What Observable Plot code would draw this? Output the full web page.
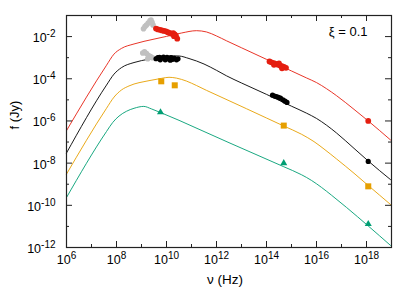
<!DOCTYPE html>
<html><head><meta charset="utf-8">
<script src="https://cdn.jsdelivr.net/npm/d3@7"></script>
<script src="https://cdn.jsdelivr.net/npm/@observablehq/plot@0.6"></script>
<style>
html,body{margin:0;padding:0;background:#fff;}
#chart svg{display:block;}
</style></head><body><div id="chart"></div>
<script>
// ---- tick exponents ----
const xMajorExp = [6, 8, 10, 12, 14, 16, 18];
const xMinorExp = [7, 9, 11, 13, 15, 17];
const yMajorExp = [-12, -10, -8, -6, -4, -2];
const yMinorExp = [-11, -9, -7, -5, -3];

// ---- model curves (log10 nu, log10 f) ----
const redLogNu = [6.0, 7.6, 7.9, 8.2, 8.7, 9.5, 10.0, 10.6, 11.2, 11.6, 12.0, 12.4, 13.0, 14.0, 15.0, 15.6, 16.0, 16.4, 16.8, 17.5, 18.07, 18.96];
const redLogF  = [-6.46, -3.36, -2.83, -2.56, -2.35, -2.12, -1.99, -1.83, -1.72, -1.78, -1.97, -2.2, -2.53, -3.08, -3.63, -3.96, -4.18, -4.47, -4.8, -5.45, -6.0, -6.9];

const blackLogNu = [6.0, 7.6, 7.9, 8.2, 8.7, 9.3, 9.8, 10.2, 10.5, 10.9, 11.5, 12.0, 12.4, 13.0, 14.0, 15.0, 15.6, 16.0, 16.4, 16.8, 17.5, 18.07, 18.96];
const blackLogF  = [-7.52, -4.3, -3.78, -3.47, -3.23, -3.07, -2.97, -2.91, -2.92, -3.04, -3.3, -3.6, -3.86, -4.2, -4.74, -5.3, -5.63, -5.88, -6.2, -6.57, -7.3, -7.9, -8.78];

const orangeLogNu = [6.0, 7.6, 7.9, 8.2, 8.5, 9.3, 9.8, 10.1, 10.4, 10.8, 11.2, 11.6, 12.3, 13.2, 14.0, 14.69, 15.4, 15.9, 16.3, 16.8, 17.5, 18.07, 18.96];
const orangeLogF  = [-8.52, -5.4, -4.87, -4.53, -4.34, -4.09, -3.98, -3.93, -3.97, -4.11, -4.32, -4.55, -4.93, -5.42, -5.86, -6.24, -6.63, -6.98, -7.33, -7.8, -8.48, -9.06, -9.96];

const greenLogNu = [6.0, 7.6, 7.85, 8.1, 8.4, 8.7, 9.09, 9.4, 9.76, 10.5, 11.5, 12.5, 13.5, 14.69, 15.4, 15.8, 16.2, 16.6, 17.2, 18.07, 18.96];
const greenLogF  = [-9.63, -6.5, -6.07, -5.77, -5.54, -5.4, -5.31, -5.43, -5.6, -5.97, -6.5, -7.03, -7.55, -8.17, -8.55, -8.82, -9.15, -9.52, -10.1, -10.98, -11.9];

// ---- observed points (log10 nu, log10 f) ----
const grayTopLogNu = [9.08, 9.14, 9.2, 9.27, 9.34, 9.38, 9.42, 9.46];
const grayTopLogF  = [-1.63, -1.52, -1.45, -1.36, -1.25, -1.22, -1.32, -1.45];
const redPtLogNu = [9.58, 9.66, 9.74, 9.82, 9.9, 9.98, 10.05, 10.12, 10.2, 10.27, 10.33, 10.38, 10.43, 10.3, 14.12, 14.2, 14.3, 14.38, 14.46, 14.54, 14.62, 14.7, 14.78, 14.3, 14.5, 14.62, 18.07];
const redPtLogF  = [-1.62, -1.66, -1.68, -1.71, -1.73, -1.75, -1.79, -1.83, -1.86, -1.84, -1.9, -1.97, -2.1, -1.98, -3.18, -3.22, -3.26, -3.3, -3.33, -3.37, -3.4, -3.44, -3.48, -3.34, -3.27, -3.5, -6.0];

const grayLowLogNu = [9.05, 9.12, 9.2, 9.28, 9.36, 9.44, 9.25];
const grayLowLogF  = [-2.78, -2.72, -2.8, -2.9, -2.95, -3.0, -3.05];
const blackPtLogNu = [9.58, 9.65, 9.72, 9.8, 9.88, 9.95, 10.02, 10.1, 10.18, 10.25, 10.32, 10.4, 10.46, 9.75, 9.95, 10.15, 14.24, 14.32, 14.4, 14.48, 14.56, 14.66, 14.74, 14.82, 18.07];
const blackPtLogF  = [-3.05, -3.0, -2.98, -3.02, -2.97, -3.04, -2.99, -3.06, -3.0, -3.08, -3.03, -3.1, -3.05, -3.1, -3.1, -3.12, -4.78, -4.82, -4.84, -4.88, -4.92, -5.0, -5.06, -5.12, -7.92];

const orangePtLogNu = [9.79, 10.33, 14.69, 18.07];
const orangePtLogF  = [-4.12, -4.31, -6.22, -9.1];

const greenPtLogNu = [9.76, 14.69, 18.07];
const greenPtLogF  = [-5.59, -8.0, -10.89];

// ---- colours ----
const cRed = "#e51e10", cBlack = "#000000", cOrange = "#e69f00", cGreen = "#009e73", cGray = "#c0c0c0";

const toPts = (lx, ly) => lx.map((v, i) => ({nu: 10 ** v, f: 10 ** ly[i]}));
const W = 415, H = 290, mL = 66, mR = 24, mT = 15, mB = 43;
const pw = W - mL - mR, ph = H - mT - mB;
const pow = e => 10 ** e;
const fmt = d => "10^" + String(Math.round(Math.log10(d))).replace("−", "-");
const axisColor = "#222";

const lineOpts = (c) => ({x: "nu", y: "f", stroke: c, strokeWidth: 0.9, curve: "monotone-x"});

const chart = Plot.plot({
  width: W, height: H,
  marginLeft: mL, marginRight: mR, marginTop: mT, marginBottom: mB,
  style: {fontFamily: "'Liberation Sans', Arial, sans-serif", fontSize: "12px", color: "#000", background: "#fff"},
  x: {type: "log", domain: [1e6, 1e19]},
  y: {type: "log", domain: [1e-12, 1e-1]},
  marks: [
    Plot.line(toPts(redLogNu, redLogF), lineOpts(cRed)),
    Plot.line(toPts(blackLogNu, blackLogF), lineOpts(cBlack)),
    Plot.line(toPts(orangeLogNu, orangeLogF), lineOpts(cOrange)),
    Plot.line(toPts(greenLogNu, greenLogF), lineOpts(cGreen)),
    Plot.dot(toPts(grayTopLogNu, grayTopLogF), {x: "nu", y: "f", r: 2.8, fill: cGray, symbol: "circle"}),
    Plot.dot(toPts(grayLowLogNu, grayLowLogF), {x: "nu", y: "f", r: 2.8, fill: cGray, symbol: "circle"}),
    Plot.dot(toPts(redPtLogNu, redPtLogF), {x: "nu", y: "f", r: 2.9, fill: cRed, symbol: "circle"}),
    Plot.dot(toPts(blackPtLogNu, blackPtLogF), {x: "nu", y: "f", r: 2.6, fill: cBlack, symbol: "circle"}),
    Plot.dot(toPts(orangePtLogNu, orangePtLogF), {x: "nu", y: "f", r: 3.4, fill: cOrange, symbol: "square"}),
    Plot.dot(toPts(greenPtLogNu, greenPtLogF), {x: "nu", y: "f", r: 2.6, fill: cGreen, symbol: "triangle"}),
    // inward ticks on all four sides
    Plot.tickX(xMajorExp.map(pow), {x: d => d, insetTop: ph - 6, stroke: axisColor}),
    Plot.tickX(xMinorExp.map(pow), {x: d => d, insetTop: ph - 3, stroke: axisColor}),
    Plot.tickX(xMajorExp.map(pow), {x: d => d, insetBottom: ph - 6, stroke: axisColor}),
    Plot.tickX(xMinorExp.map(pow), {x: d => d, insetBottom: ph - 3, stroke: axisColor}),
    Plot.tickY(yMajorExp.map(pow), {y: d => d, insetRight: pw - 6, stroke: axisColor}),
    Plot.tickY(yMinorExp.map(pow), {y: d => d, insetRight: pw - 3, stroke: axisColor}),
    Plot.tickY(yMajorExp.map(pow), {y: d => d, insetLeft: pw - 6, stroke: axisColor}),
    Plot.tickY(yMinorExp.map(pow), {y: d => d, insetLeft: pw - 3, stroke: axisColor}),
    Plot.axisX({ticks: xMajorExp.map(pow), tickFormat: fmt, tickSize: 0, tickPadding: 8, label: null, fontSize: 12.5}),
    Plot.axisY({ticks: yMajorExp.map(pow), tickFormat: fmt, tickSize: 0, tickPadding: 11, label: null, fontSize: 12.5, dy: 1.5}),
    Plot.frame({stroke: axisColor, strokeWidth: 1.2}),
    Plot.text(["ν (Hz)"], {frameAnchor: "bottom", dx: -4, dy: 36.5, lineAnchor: "bottom", fontSize: 13.5}),
    Plot.text(["f (Jy)"], {frameAnchor: "left", dx: -52, dy: -2, rotate: -90, fontSize: 13}),
    Plot.text(["ξ = 0.1"], {frameAnchor: "top-right", textAnchor: "end", dx: -24, dy: 20, lineAnchor: "bottom", fontSize: 13})
  ]
});

// superscript exponents in tick labels
const ns = "http://www.w3.org/2000/svg";
chart.querySelectorAll('g[aria-label="x-axis tick label"] text, g[aria-label="y-axis tick label"] text').forEach(t => {
  const m = t.textContent.match(/^10\^(.+)$/);
  if (!m) return;
  t.textContent = "";
  const a = document.createElementNS(ns, "tspan");
  a.textContent = "10";
  const b = document.createElementNS(ns, "tspan");
  b.setAttribute("dy", "-0.5em");
  b.setAttribute("font-size", "10");
  b.textContent = m[1];
  t.append(a, b);
});

document.getElementById("chart").append(chart);
</script>
</body></html>
